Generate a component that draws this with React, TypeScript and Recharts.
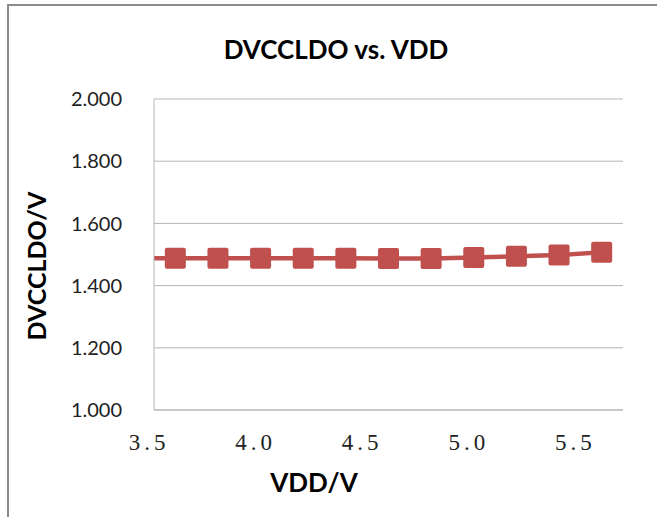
import { LineChart, Line, XAxis, YAxis, CartesianGrid } from 'recharts';

// VDD sweep (V); the first point sits left of the axis minimum, the line runs in from the edge
const vdd = [3.4, 3.6, 3.8, 4.0, 4.2, 4.4, 4.6, 4.8, 5.0, 5.2, 5.4, 5.6];
// DVCCLDO output (V)
const dvccldo = [1.488, 1.488, 1.488, 1.488, 1.488, 1.488, 1.487, 1.487, 1.49, 1.494, 1.498, 1.507];

const xTicks = [3.5, 4.0, 4.5, 5.0, 5.5];
const yTicks = [1.0, 1.2, 1.4, 1.6, 1.8, 2.0];

const data = vdd.map((v, i) => ({ vdd: v, dvccldo: dvccldo[i] }));

const RED = '#C0504D';
const GRID = '#b5b5b5';

function SquareDot(props: any) {
  const { cx, cy, index } = props;
  if (cx == null || cy == null) return null;
  return <rect key={index} x={cx - 10.5} y={cy - 10.5} width={21} height={21} rx={2} fill={RED} />;
}

export default function App() {
  return (
    <div style={{ position: 'absolute', left: 0, top: 0, width: 657, height: 517, background: '#fff', overflow: 'hidden' }}>
      {/* chart area border */}
      <div
        style={{
          position: 'absolute',
          left: 7,
          top: 4,
          width: 700,
          height: 600,
          borderLeft: '2px solid #8c8c8c',
          borderTop: '2px solid #8c8c8c',
        }}
      />
      <LineChart
        width={657}
        height={517}
        data={data}
        margin={{ top: 99, right: 34, bottom: 67, left: 94 }}
        style={{ position: 'absolute', left: 0, top: 0 }}
      >
        <CartesianGrid vertical={false} stroke={GRID} />
        <XAxis
          dataKey="vdd"
          type="number"
          domain={[3.5, 5.7]}
          allowDataOverflow
          ticks={xTicks}
          tickFormatter={(v: number) => v.toFixed(1)}
          height={40}
          stroke={GRID}
          tickLine={false}
          tickMargin={18}
          tick={{ fill: '#222', fontSize: 23, fontFamily: 'Liberation Serif', letterSpacing: 4, dx: -5 }}
        />
        <YAxis
          type="number"
          domain={[1, 2]}
          ticks={yTicks}
          tickFormatter={(v: number) => v.toFixed(3)}
          width={60}
          stroke={GRID}
          tickLine={false}
          tickMargin={26}
          tick={{ fill: '#222', fontSize: 20, fontFamily: 'Lato' }}
        />
        <Line
          dataKey="dvccldo"
          stroke={RED}
          strokeWidth={4.5}
          dot={SquareDot}
          activeDot={false}
          isAnimationActive={false}
        />
      </LineChart>
      <svg width={657} height={517} style={{ position: 'absolute', left: 0, top: 0, pointerEvents: 'none' }}>
        <text x={336} y={59} textAnchor="middle" fontFamily="Lato" fontWeight="bold" fontSize={26} fill="#000">
          DVCCLDO vs. VDD
        </text>
        <text x={314} y={492} textAnchor="middle" fontFamily="Lato" fontWeight="bold" fontSize={26} fill="#000">
          VDD/V
        </text>
        <text
          x={36}
          y={266}
          transform="rotate(-90 36 266)"
          textAnchor="middle"
          dominantBaseline="central"
          fontFamily="Lato"
          fontWeight="bold"
          fontSize={25}
          fill="#000"
        >
          DVCCLDO/V
        </text>
      </svg>
    </div>
  );
}
